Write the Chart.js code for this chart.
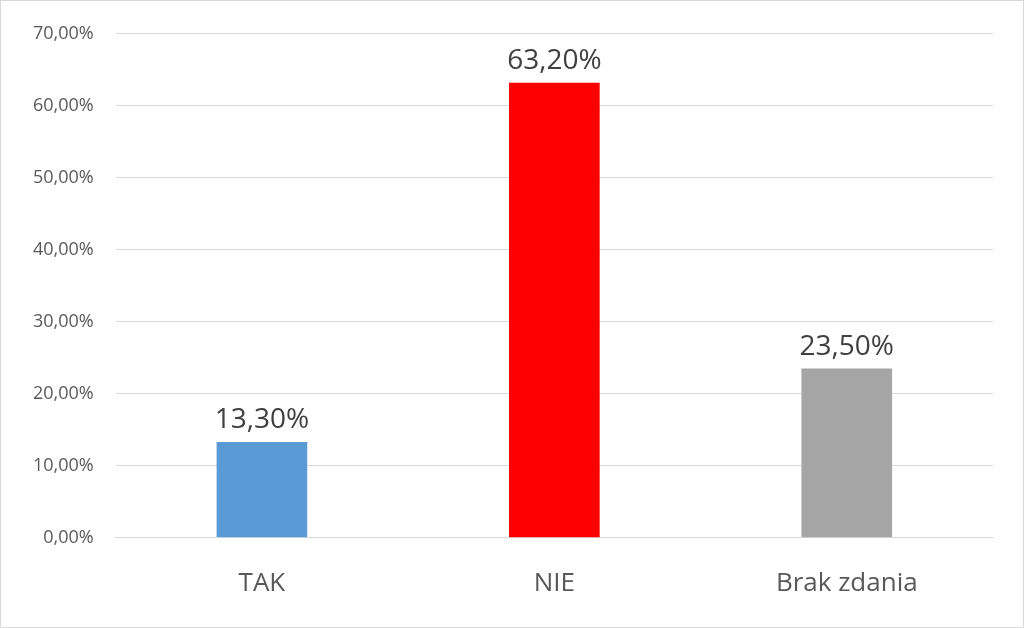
<!DOCTYPE html>
<html>
<head>
<meta charset="utf-8">
<script src="https://cdn.jsdelivr.net/npm/chart.js@4"></script>
<style>
  html, body { margin: 0; padding: 0; background: #fff; }
  #wrap { width: 1022px; height: 626px; border: 1px solid #d9d9d9; }
</style>
</head>
<body>
<div id="wrap"><canvas id="chart" width="1022" height="626"></canvas></div>
<script>
const categories = ['TAK', 'NIE', 'Brak zdania']
const values = [13.3, 63.2, 23.5]
const barColors = ['#5B9BD5', '#FF0000', '#A5A5A5']

function pl(v) {
  return v.toFixed(2).replace('.', ',') + '%'
}

// draw the value above each bar
const valueLabels = {
  id: 'valueLabels',
  afterDatasetsDraw(chart) {
    const ctx = chart.ctx
    const meta = chart.getDatasetMeta(0)
    ctx.save()
    ctx.fillStyle = '#404040'
    ctx.font = '28px "Open Sans", sans-serif'
    ctx.textAlign = 'center'
    ctx.textBaseline = 'bottom'
    meta.data.forEach((bar, i) => {
      ctx.fillText(pl(values[i]), bar.x, bar.y - 8)
    })
    ctx.restore()
  }
}

new Chart(document.getElementById('chart'), {
  type: 'bar',
  data: {
    labels: categories,
    datasets: [{
      data: values,
      backgroundColor: barColors,
      barPercentage: 0.62,
      categoryPercentage: 0.5
    }]
  },
  options: {
    responsive: false,
    animation: false,
    layout: { padding: { top: 22, right: 30, left: 10, bottom: 6 } },
    plugins: { legend: { display: false }, tooltip: { enabled: false } },
    scales: {
      x: {
        grid: { display: false },
        border: { color: '#d9d9d9' },
        ticks: { color: '#595959', font: { size: 26, family: '"Open Sans", sans-serif' }, padding: 22 }
      },
      y: {
        min: 0,
        max: 70,
        grid: { color: '#d9d9d9', drawTicks: false },
        border: { display: false },
        ticks: {
          stepSize: 10,
          color: '#595959',
          padding: 22,
          font: { size: 18, family: '"Open Sans", sans-serif' },
          callback: v => pl(v)
        }
      }
    }
  },
  plugins: [valueLabels]
})
</script>
</body>
</html>
